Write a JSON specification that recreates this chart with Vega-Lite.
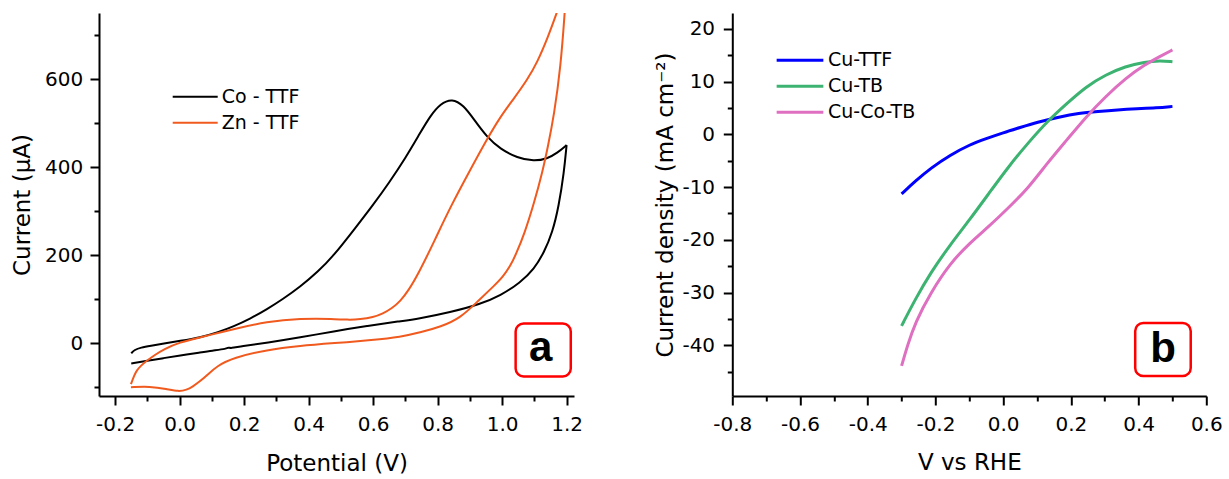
{
  "$schema": "https://vega.github.io/schema/vega-lite/v6.json",
  "padding": {"left": 11, "top": 13, "right": 0, "bottom": 0},
  "spacing": 158.3,
  "bounds": "flush",
  "resolve": {"scale": {"color": "independent"}, "legend": {"color": "independent"}},
  "datasets": {
    "cv": [
      {"series": "Co - TTF", "scan": "forward", "potential": -0.150, "current": -23},
      {"series": "Co - TTF", "scan": "forward", "potential": -0.140, "current": -15},
      {"series": "Co - TTF", "scan": "forward", "potential": -0.120, "current": -10},
      {"series": "Co - TTF", "scan": "forward", "potential": -0.090, "current": -6},
      {"series": "Co - TTF", "scan": "forward", "potential": -0.050, "current": -1},
      {"series": "Co - TTF", "scan": "forward", "potential": 0.000, "current": 5},
      {"series": "Co - TTF", "scan": "forward", "potential": 0.064, "current": 13},
      {"series": "Co - TTF", "scan": "forward", "potential": 0.120, "current": 25},
      {"series": "Co - TTF", "scan": "forward", "potential": 0.167, "current": 38},
      {"series": "Co - TTF", "scan": "forward", "potential": 0.220, "current": 56},
      {"series": "Co - TTF", "scan": "forward", "potential": 0.271, "current": 77},
      {"series": "Co - TTF", "scan": "forward", "potential": 0.320, "current": 100},
      {"series": "Co - TTF", "scan": "forward", "potential": 0.374, "current": 128},
      {"series": "Co - TTF", "scan": "forward", "potential": 0.430, "current": 163},
      {"series": "Co - TTF", "scan": "forward", "potential": 0.478, "current": 199},
      {"series": "Co - TTF", "scan": "forward", "potential": 0.540, "current": 257},
      {"series": "Co - TTF", "scan": "forward", "potential": 0.600, "current": 314},
      {"series": "Co - TTF", "scan": "forward", "potential": 0.650, "current": 365},
      {"series": "Co - TTF", "scan": "forward", "potential": 0.700, "current": 420},
      {"series": "Co - TTF", "scan": "forward", "potential": 0.747, "current": 479},
      {"series": "Co - TTF", "scan": "forward", "potential": 0.778, "current": 517},
      {"series": "Co - TTF", "scan": "forward", "potential": 0.809, "current": 544},
      {"series": "Co - TTF", "scan": "forward", "potential": 0.845, "current": 556},
      {"series": "Co - TTF", "scan": "forward", "potential": 0.881, "current": 540},
      {"series": "Co - TTF", "scan": "forward", "potential": 0.912, "current": 509},
      {"series": "Co - TTF", "scan": "forward", "potential": 0.954, "current": 467},
      {"series": "Co - TTF", "scan": "forward", "potential": 0.995, "current": 441},
      {"series": "Co - TTF", "scan": "forward", "potential": 1.047, "current": 421},
      {"series": "Co - TTF", "scan": "forward", "potential": 1.099, "current": 413},
      {"series": "Co - TTF", "scan": "forward", "potential": 1.140, "current": 419},
      {"series": "Co - TTF", "scan": "forward", "potential": 1.171, "current": 432},
      {"series": "Co - TTF", "scan": "forward", "potential": 1.200, "current": 450},
      {"series": "Co - TTF", "scan": "reverse", "potential": 1.200, "current": 450},
      {"series": "Co - TTF", "scan": "reverse", "potential": 1.192, "current": 388},
      {"series": "Co - TTF", "scan": "reverse", "potential": 1.176, "current": 312},
      {"series": "Co - TTF", "scan": "reverse", "potential": 1.156, "current": 251},
      {"series": "Co - TTF", "scan": "reverse", "potential": 1.130, "current": 206},
      {"series": "Co - TTF", "scan": "reverse", "potential": 1.099, "current": 168},
      {"series": "Co - TTF", "scan": "reverse", "potential": 1.057, "current": 138},
      {"series": "Co - TTF", "scan": "reverse", "potential": 0.995, "current": 108},
      {"series": "Co - TTF", "scan": "reverse", "potential": 0.933, "current": 89},
      {"series": "Co - TTF", "scan": "reverse", "potential": 0.840, "current": 70},
      {"series": "Co - TTF", "scan": "reverse", "potential": 0.737, "current": 55},
      {"series": "Co - TTF", "scan": "reverse", "potential": 0.685, "current": 50},
      {"series": "Co - TTF", "scan": "reverse", "potential": 0.581, "current": 39},
      {"series": "Co - TTF", "scan": "reverse", "potential": 0.478, "current": 27},
      {"series": "Co - TTF", "scan": "reverse", "potential": 0.374, "current": 13},
      {"series": "Co - TTF", "scan": "reverse", "potential": 0.271, "current": 1},
      {"series": "Co - TTF", "scan": "reverse", "potential": 0.190, "current": -7},
      {"series": "Co - TTF", "scan": "reverse", "potential": 0.158, "current": -12},
      {"series": "Co - TTF", "scan": "reverse", "potential": 0.152, "current": -9},
      {"series": "Co - TTF", "scan": "reverse", "potential": 0.146, "current": -13},
      {"series": "Co - TTF", "scan": "reverse", "potential": 0.100, "current": -17},
      {"series": "Co - TTF", "scan": "reverse", "potential": 0.064, "current": -21},
      {"series": "Co - TTF", "scan": "reverse", "potential": 0.000, "current": -28},
      {"series": "Co - TTF", "scan": "reverse", "potential": -0.050, "current": -34},
      {"series": "Co - TTF", "scan": "reverse", "potential": -0.100, "current": -40},
      {"series": "Co - TTF", "scan": "reverse", "potential": -0.150, "current": -46},
      {"series": "Zn - TTF", "scan": "forward", "potential": -0.151, "current": -93},
      {"series": "Zn - TTF", "scan": "forward", "potential": -0.140, "current": -72},
      {"series": "Zn - TTF", "scan": "forward", "potential": -0.133, "current": -62},
      {"series": "Zn - TTF", "scan": "forward", "potential": -0.120, "current": -51},
      {"series": "Zn - TTF", "scan": "forward", "potential": -0.102, "current": -40},
      {"series": "Zn - TTF", "scan": "forward", "potential": -0.075, "current": -26},
      {"series": "Zn - TTF", "scan": "forward", "potential": -0.050, "current": -14},
      {"series": "Zn - TTF", "scan": "forward", "potential": 0.000, "current": 2},
      {"series": "Zn - TTF", "scan": "forward", "potential": 0.064, "current": 13},
      {"series": "Zn - TTF", "scan": "forward", "potential": 0.085, "current": 17},
      {"series": "Zn - TTF", "scan": "forward", "potential": 0.167, "current": 32},
      {"series": "Zn - TTF", "scan": "forward", "potential": 0.271, "current": 49},
      {"series": "Zn - TTF", "scan": "forward", "potential": 0.374, "current": 56},
      {"series": "Zn - TTF", "scan": "forward", "potential": 0.478, "current": 55},
      {"series": "Zn - TTF", "scan": "forward", "potential": 0.520, "current": 53},
      {"series": "Zn - TTF", "scan": "forward", "potential": 0.561, "current": 54},
      {"series": "Zn - TTF", "scan": "forward", "potential": 0.600, "current": 59},
      {"series": "Zn - TTF", "scan": "forward", "potential": 0.630, "current": 67},
      {"series": "Zn - TTF", "scan": "forward", "potential": 0.660, "current": 80},
      {"series": "Zn - TTF", "scan": "forward", "potential": 0.685, "current": 96},
      {"series": "Zn - TTF", "scan": "forward", "potential": 0.710, "current": 120},
      {"series": "Zn - TTF", "scan": "forward", "potential": 0.740, "current": 157},
      {"series": "Zn - TTF", "scan": "forward", "potential": 0.790, "current": 232},
      {"series": "Zn - TTF", "scan": "forward", "potential": 0.840, "current": 310},
      {"series": "Zn - TTF", "scan": "forward", "potential": 0.900, "current": 392},
      {"series": "Zn - TTF", "scan": "forward", "potential": 0.952, "current": 462},
      {"series": "Zn - TTF", "scan": "forward", "potential": 0.995, "current": 515},
      {"series": "Zn - TTF", "scan": "forward", "potential": 1.037, "current": 556},
      {"series": "Zn - TTF", "scan": "forward", "potential": 1.078, "current": 598},
      {"series": "Zn - TTF", "scan": "forward", "potential": 1.109, "current": 638},
      {"series": "Zn - TTF", "scan": "forward", "potential": 1.140, "current": 691},
      {"series": "Zn - TTF", "scan": "forward", "potential": 1.169, "current": 749},
      {"series": "Zn - TTF", "scan": "forward", "potential": 1.200, "current": 815},
      {"series": "Zn - TTF", "scan": "reverse", "potential": 1.200, "current": 815},
      {"series": "Zn - TTF", "scan": "reverse", "potential": 1.194, "current": 749},
      {"series": "Zn - TTF", "scan": "reverse", "potential": 1.182, "current": 630},
      {"series": "Zn - TTF", "scan": "reverse", "potential": 1.161, "current": 517},
      {"series": "Zn - TTF", "scan": "reverse", "potential": 1.143, "current": 450},
      {"series": "Zn - TTF", "scan": "reverse", "potential": 1.125, "current": 388},
      {"series": "Zn - TTF", "scan": "reverse", "potential": 1.099, "current": 318},
      {"series": "Zn - TTF", "scan": "reverse", "potential": 1.070, "current": 250},
      {"series": "Zn - TTF", "scan": "reverse", "potential": 1.042, "current": 200},
      {"series": "Zn - TTF", "scan": "reverse", "potential": 1.026, "current": 176},
      {"series": "Zn - TTF", "scan": "reverse", "potential": 1.002, "current": 150},
      {"series": "Zn - TTF", "scan": "reverse", "potential": 0.975, "current": 130},
      {"series": "Zn - TTF", "scan": "reverse", "potential": 0.927, "current": 97},
      {"series": "Zn - TTF", "scan": "reverse", "potential": 0.871, "current": 57},
      {"series": "Zn - TTF", "scan": "reverse", "potential": 0.809, "current": 37},
      {"series": "Zn - TTF", "scan": "reverse", "potential": 0.750, "current": 25},
      {"series": "Zn - TTF", "scan": "reverse", "potential": 0.685, "current": 14},
      {"series": "Zn - TTF", "scan": "reverse", "potential": 0.600, "current": 7},
      {"series": "Zn - TTF", "scan": "reverse", "potential": 0.478, "current": 0},
      {"series": "Zn - TTF", "scan": "reverse", "potential": 0.374, "current": -6},
      {"series": "Zn - TTF", "scan": "reverse", "potential": 0.271, "current": -15},
      {"series": "Zn - TTF", "scan": "reverse", "potential": 0.167, "current": -33},
      {"series": "Zn - TTF", "scan": "reverse", "potential": 0.115, "current": -52},
      {"series": "Zn - TTF", "scan": "reverse", "potential": 0.085, "current": -73},
      {"series": "Zn - TTF", "scan": "reverse", "potential": 0.064, "current": -86},
      {"series": "Zn - TTF", "scan": "reverse", "potential": 0.040, "current": -99},
      {"series": "Zn - TTF", "scan": "reverse", "potential": 0.022, "current": -106},
      {"series": "Zn - TTF", "scan": "reverse", "potential": -0.003, "current": -110},
      {"series": "Zn - TTF", "scan": "reverse", "potential": -0.040, "current": -104},
      {"series": "Zn - TTF", "scan": "reverse", "potential": -0.092, "current": -98},
      {"series": "Zn - TTF", "scan": "reverse", "potential": -0.151, "current": -100}
    ],
    "lsv": [
      {"series": "Cu-TTF", "potential": -0.300, "density": -11.3},
      {"series": "Cu-TTF", "potential": -0.260, "density": -8.9},
      {"series": "Cu-TTF", "potential": -0.214, "density": -6.4},
      {"series": "Cu-TTF", "potential": -0.156, "density": -3.9},
      {"series": "Cu-TTF", "potential": -0.100, "density": -2.0},
      {"series": "Cu-TTF", "potential": -0.050, "density": -0.8},
      {"series": "Cu-TTF", "potential": 0.000, "density": 0.3},
      {"series": "Cu-TTF", "potential": 0.050, "density": 1.3},
      {"series": "Cu-TTF", "potential": 0.100, "density": 2.3},
      {"series": "Cu-TTF", "potential": 0.166, "density": 3.3},
      {"series": "Cu-TTF", "potential": 0.223, "density": 4.0},
      {"series": "Cu-TTF", "potential": 0.280, "density": 4.35},
      {"series": "Cu-TTF", "potential": 0.338, "density": 4.65},
      {"series": "Cu-TTF", "potential": 0.395, "density": 4.85},
      {"series": "Cu-TTF", "potential": 0.453, "density": 5.0},
      {"series": "Cu-TTF", "potential": 0.500, "density": 5.3},
      {"series": "Cu-TB", "potential": -0.300, "density": -36.3},
      {"series": "Cu-TB", "potential": -0.260, "density": -31.3},
      {"series": "Cu-TB", "potential": -0.214, "density": -26.2},
      {"series": "Cu-TB", "potential": -0.156, "density": -20.9},
      {"series": "Cu-TB", "potential": -0.099, "density": -16.2},
      {"series": "Cu-TB", "potential": -0.041, "density": -11.1},
      {"series": "Cu-TB", "potential": 0.016, "density": -6.1},
      {"series": "Cu-TB", "potential": 0.074, "density": -1.6},
      {"series": "Cu-TB", "potential": 0.131, "density": 2.5},
      {"series": "Cu-TB", "potential": 0.189, "density": 5.9},
      {"series": "Cu-TB", "potential": 0.246, "density": 9.1},
      {"series": "Cu-TB", "potential": 0.303, "density": 11.3},
      {"series": "Cu-TB", "potential": 0.361, "density": 12.9},
      {"series": "Cu-TB", "potential": 0.418, "density": 13.7},
      {"series": "Cu-TB", "potential": 0.464, "density": 14.0},
      {"series": "Cu-TB", "potential": 0.500, "density": 13.75},
      {"series": "Cu-Co-TB", "potential": -0.300, "density": -43.9},
      {"series": "Cu-Co-TB", "potential": -0.283, "density": -40.1},
      {"series": "Cu-Co-TB", "potential": -0.260, "density": -35.7},
      {"series": "Cu-Co-TB", "potential": -0.214, "density": -30.0},
      {"series": "Cu-Co-TB", "potential": -0.156, "density": -24.4},
      {"series": "Cu-Co-TB", "potential": -0.099, "density": -20.6},
      {"series": "Cu-Co-TB", "potential": -0.041, "density": -17.4},
      {"series": "Cu-Co-TB", "potential": 0.016, "density": -13.9},
      {"series": "Cu-Co-TB", "potential": 0.074, "density": -10.2},
      {"series": "Cu-Co-TB", "potential": 0.131, "density": -5.4},
      {"series": "Cu-Co-TB", "potential": 0.189, "density": -1.0},
      {"series": "Cu-Co-TB", "potential": 0.246, "density": 3.4},
      {"series": "Cu-Co-TB", "potential": 0.303, "density": 7.2},
      {"series": "Cu-Co-TB", "potential": 0.361, "density": 10.6},
      {"series": "Cu-Co-TB", "potential": 0.418, "density": 13.2},
      {"series": "Cu-Co-TB", "potential": 0.464, "density": 14.8},
      {"series": "Cu-Co-TB", "potential": 0.500, "density": 16.0}
    ]
  },
  "hconcat": [
    {
      "width": 475,
      "height": 383,
      "resolve": {"scale": {"x": "shared", "y": "shared"}, "axis": {"x": "independent", "y": "independent"}},
      "layer": [
        {
          "data": {"name": "cv"},
          "mark": {"type": "line", "interpolate": "basis", "strokeWidth": 2, "clip": true},
          "encoding": {
            "x": {"field": "potential", "type": "quantitative",
              "scale": {"domain": [-0.25, 1.223], "nice": false, "zero": false},
              "axis": {"orient": "bottom", "values": [-0.2, 0, 0.2, 0.4, 0.6, 0.8, 1.0, 1.2], "title": "Potential (V)",
                "labelExpr": "replace(format(datum.value, '.1f'), '−', '-')",
                "tickSize": 9, "labelPadding": 25.7, "labelBaseline": "alphabetic", "titleY": 74.7, "titleBaseline": "alphabetic"}},
            "y": {"field": "current", "type": "quantitative",
              "scale": {"domain": [-120, 750], "nice": false, "zero": false},
              "axis": {"orient": "left", "values": [0, 200, 400, 600], "title": "Current (μA)",
                "tickSize": 9, "labelPadding": 7.3, "titleX": -70, "titleBaseline": "alphabetic"}},
            "color": {"field": "series", "type": "nominal",
              "scale": {"domain": ["Co - TTF", "Zn - TTF"], "range": ["#000000", "#f05a1e"]},
              "legend": {"orient": "none", "legendX": 72.7, "legendY": 73.7, "title": null, "symbolType": "stroke",
                "symbolSize": 2025, "symbolStrokeWidth": 2, "labelFontSize": 19, "labelOffset": 3, "padding": 0,
                "clipHeight": 20, "rowPadding": 6, "labelColor": "black"}},
            "detail": {"field": "scan"}
          }
        },
        {
          "data": {"values": [{}]},
          "mark": {"type": "rect", "fill": "white", "stroke": "#ff0000", "strokeWidth": 2.5, "cornerRadius": 8},
          "encoding": {
            "x": {"datum": 1.042, "type": "quantitative", "scale": {"domain": [-0.25, 1.223], "nice": false, "zero": false},
              "axis": {"orient": "bottom", "values": [-0.1, 0.1, 0.3, 0.5, 0.7, 0.9, 1.1], "labels": false, "domain": false, "tickSize": 5, "title": null}},
            "x2": {"datum": 1.213},
            "y": {"datum": 44.8, "type": "quantitative", "scale": {"domain": [-120, 750], "nice": false, "zero": false},
              "axis": {"orient": "left", "values": [-100, 100, 300, 500, 700], "labels": false, "domain": false, "tickSize": 5, "title": null}},
            "y2": {"datum": -75.7}
          }
        },
        {
          "data": {"values": [{}]},
          "mark": {"type": "text", "text": "a", "font": "Liberation Sans", "fontSize": 42, "fontWeight": "bold", "align": "center", "baseline": "alphabetic", "color": "black"},
          "encoding": {
            "x": {"datum": 1.12, "type": "quantitative", "scale": {"domain": [-0.25, 1.223], "nice": false, "zero": false}, "axis": null},
            "y": {"datum": -40, "type": "quantitative", "scale": {"domain": [-120, 750], "nice": false, "zero": false}, "axis": null}
          }
        }
      ]
    },
    {
      "width": 474,
      "height": 383,
      "resolve": {"scale": {"x": "shared", "y": "shared"}, "axis": {"x": "independent", "y": "independent"}},
      "layer": [
        {
          "data": {"name": "lsv"},
          "mark": {"type": "line", "interpolate": "basis", "strokeWidth": 3, "clip": true},
          "encoding": {
            "x": {"field": "potential", "type": "quantitative",
              "scale": {"domain": [-0.8, 0.6], "nice": false, "zero": false},
              "axis": {"orient": "bottom", "values": [-0.8, -0.6, -0.4, -0.2, 0, 0.2, 0.4, 0.6], "title": "V vs RHE",
                "labelExpr": "replace(format(datum.value, '.1f'), '−', '-')",
                "tickSize": 9, "labelPadding": 25, "labelBaseline": "alphabetic", "titleY": 73, "titleBaseline": "alphabetic"}},
            "y": {"field": "density", "type": "quantitative",
              "scale": {"domain": [-49.6, 23], "nice": false, "zero": false},
              "axis": {"orient": "left", "values": [-40, -30, -20, -10, 0, 10, 20], "title": "Current density (mA cm⁻²)",
                "labelExpr": "replace(format(datum.value, 'd'), '−', '-')",
                "tickSize": 9, "labelPadding": 8.7, "titleX": -60, "titleBaseline": "alphabetic"}},
            "color": {"field": "series", "type": "nominal",
              "scale": {"domain": ["Cu-TTF", "Cu-TB", "Cu-Co-TB"], "range": ["#0000ff", "#3cb371", "#df6fc0"]},
              "legend": {"orient": "none", "legendX": 42.7, "legendY": 37.2, "title": null, "symbolType": "stroke",
                "symbolSize": 2180, "symbolStrokeWidth": 3, "labelFontSize": 19, "labelOffset": 3, "padding": 0,
                "clipHeight": 20, "rowPadding": 6, "labelColor": "black"}}
          }
        },
        {
          "data": {"values": [{}]},
          "mark": {"type": "rect", "fill": "white", "stroke": "#ff0000", "strokeWidth": 2.5, "cornerRadius": 8},
          "encoding": {
            "x": {"datum": 0.39, "type": "quantitative", "scale": {"domain": [-0.8, 0.6], "nice": false, "zero": false},
              "axis": {"orient": "bottom", "values": [-0.7, -0.5, -0.3, -0.1, 0.1, 0.3, 0.5], "labels": false, "domain": false, "tickSize": 5, "title": null}},
            "x2": {"datum": 0.554},
            "y": {"datum": -35.75, "type": "quantitative", "scale": {"domain": [-49.6, 23], "nice": false, "zero": false},
              "axis": {"orient": "left", "values": [-45, -35, -25, -15, -5, 5, 15], "labels": false, "domain": false, "tickSize": 5, "title": null}},
            "y2": {"datum": -45.8}
          }
        },
        {
          "data": {"values": [{}]},
          "mark": {"type": "text", "text": "b", "font": "Liberation Sans", "fontSize": 42, "fontWeight": "bold", "align": "center", "baseline": "alphabetic", "color": "black"},
          "encoding": {
            "x": {"datum": 0.472, "type": "quantitative", "scale": {"domain": [-0.8, 0.6], "nice": false, "zero": false}, "axis": null},
            "y": {"datum": -43.2, "type": "quantitative", "scale": {"domain": [-49.6, 23], "nice": false, "zero": false}, "axis": null}
          }
        }
      ]
    }
  ],
  "config": {
    "font": "DejaVu Sans",
    "view": {"stroke": null},
    "axis": {
      "grid": false,
      "domainColor": "black",
      "domainWidth": 2,
      "tickColor": "black",
      "tickWidth": 2,
      "labelColor": "black",
      "titleColor": "black",
      "labelFontSize": 20,
      "titleFontSize": 23,
      "titleFontWeight": "normal",
      "labelFlush": false,
      "labelOverlap": false
    }
  }
}
